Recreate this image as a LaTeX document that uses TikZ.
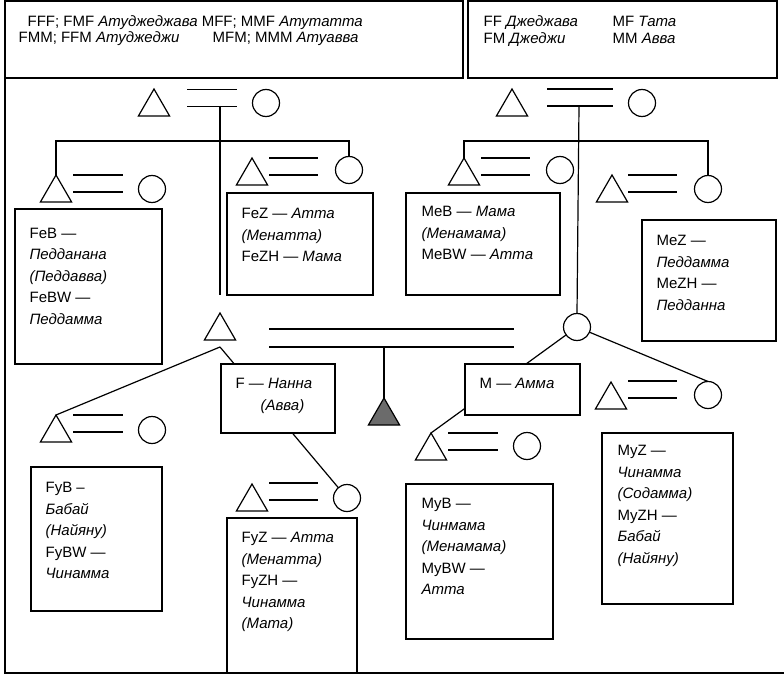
\documentclass[tikz,border=0pt]{standalone}
\usepackage{fontspec}
\setmainfont{Liberation Sans}
\usetikzlibrary{positioning,shapes.geometric}
\definecolor{egogray}{HTML}{6B6B6B}
\newcommand{\wedlock}[3]{\draw (#1,#2) -- ++(#3,0) (#1,#2+17) -- ++(#3,0);}

\begin{document}
\begin{tikzpicture}[x=1pt,y=-1pt,line width=1.2pt,
                    man/.style={draw,regular polygon,regular polygon sides=3,minimum size=36pt,
                                inner sep=0pt,outer sep=0pt,anchor=corner 1},
                    woman/.style={draw,circle,minimum size=27pt,inner sep=0pt,outer sep=0pt},
                    kinbox/.style={draw,fill=white,anchor=north west,inner sep=0pt,outer sep=0pt},
                    kintext/.style={inner sep=0pt,align=left,font=\fontsize{15}{21.5}\selectfont},
                    toptext/.style={inner sep=0pt,anchor=base west,font=\fontsize{15}{16}\selectfont}]
\useasboundingbox (0,0) rectangle (784,674);

% frame and the two headers
\draw (5,78) -- (5,673) -- (784,673);
\node[kinbox,minimum width=458pt,minimum height=77pt] (hdrL) at (5,1) {};
\node[kinbox,minimum width=309pt,minimum height=77pt] (hdrR) at (468,1) {};
\node[toptext] (gg1) at (27,26.5) {FFF; FMF \textit{Атуджеджава} MFF; MMF \textit{Атутатта}};
\node[toptext] (gg2) at (18,43) {FMM; FFM \textit{Атуджеджи}};
\node[toptext] (gg3) at (212,43) {MFM; MMM \textit{Атуавва}};
\node[toptext] (gp1) at (483,27) {FF \textit{Джеджава}};
\node[toptext] (gp2) at (483,43.5) {FM \textit{Джеджи}};
\node[toptext] (gp3) at (612,27) {MF \textit{Тата}};
\node[toptext] (gp4) at (612,43.5) {MM \textit{Авва}};

% people
\node[man] (FFt) at (154,89) {};
\node[woman] (FMc) at (266,103) {};
\node[man] (MFt) at (512,89) {};
\node[woman] (MMc) at (642,103) {};
\node[man] (FeBt) at (56,175) {};
\node[woman] (FeBc) at (152,189) {};
\node[man] (FeZt) at (252,158) {};
\node[woman] (FeZc) at (349,170) {};
\node[man] (MeBt) at (464,158) {};
\node[woman] (MeBc) at (560,170) {};
\node[man] (MeZt) at (612,175) {};
\node[woman] (MeZc) at (708,189) {};
\node[man] (Ft) at (220,313) {};
\node[woman] (Mc) at (577,327) {};
\node[man,fill=egogray] (Ego) at (384,398) {};
\node[man] (Fyt) at (56,415) {};
\node[woman] (Fyc) at (152,430) {};
\node[man] (FyZt) at (252,484) {};
\node[woman] (FyZc) at (347,498) {};
\node[man] (MyBt) at (431,433) {};
\node[woman] (MyBc) at (527,446) {};
\node[man] (MyZt) at (611,382) {};
\node[woman] (MyZc) at (708,395) {};

% marriages
\wedlock{187}{89.5}{50}
\wedlock{547}{89}{66}
\wedlock{73}{175}{50}
\wedlock{269}{158}{49}
\wedlock{481}{158}{49}
\wedlock{628}{175}{49}
\draw (269,329) -- ++(245,0) (269,347) -- ++(245,0);
\wedlock{73}{415}{50}
\wedlock{269}{483}{49}
\wedlock{448}{433}{50}
\wedlock{628}{381}{49}

% descent
\coordinate (FFdrop) at (220,106);
\coordinate (FFbar) at (220,141);
\coordinate (Fstop) at (220,295);
\coordinate (MFdrop) at (579,106);
\coordinate (MFbar) at (579,141);
\coordinate (FMdrop) at (384,347);
\coordinate (Fsplit) at (220,347);
\draw (FFdrop) -- (Fstop);
\draw (FeBt.corner 1) |- (FFbar) -| (FeZc.north);
\draw (MFdrop) -- (Mc.north);
\draw (MeBt.corner 1) |- (MFbar) -| (MeZc.north);
\draw (FMdrop) -- (Ego.corner 1);
\draw (Fsplit) -- (Fyt.corner 1);
\draw (Fsplit) -- (FyZc);
\draw (Mc) -- (MyBt.corner 1);
\draw (Mc) -- (MyZc.north);

% kin term boxes
\node[kinbox,minimum width=147pt,minimum height=155pt] (FeB) at (15,209) {};
\node[kintext,below right=18.5pt and 14pt of FeB.north west] (FeBtx)
  {FeB —\\\textit{Педданана}\\\textit{(Педдавва)}\\FeBW —\\\textit{Педдамма}};
\node[kinbox,minimum width=146pt,minimum height=102pt] (FeZ) at (227,193) {};
\node[kintext,below right=15pt and 14pt of FeZ.north west] (FeZtx)
  {FeZ — \textit{Атта}\\\textit{(Менатта)}\\FeZH — \textit{Мама}};
\node[kinbox,minimum width=154pt,minimum height=102pt] (MeB) at (406,193) {};
\node[kintext,below right=13pt and 15pt of MeB.north west] (MeBtx)
  {MeB — \textit{Мама}\\\textit{(Менамама)}\\MeBW — \textit{Атта}};
\node[kinbox,minimum width=134pt,minimum height=121pt] (MeZ) at (642,220) {};
\node[kintext,below right=15pt and 14pt of MeZ.north west] (MeZtx)
  {MeZ —\\\textit{Педдамма}\\MeZH —\\\textit{Педданна}};
\node[kinbox,minimum width=114pt,minimum height=69pt] (Fbox) at (221,364) {};
\node[kintext,below right=14pt and 14pt of Fbox.north west] (Ftx)
  {F — \textit{Нанна}\\\hspace*{25pt}\textit{(Авва)}};
\node[kinbox,minimum width=115pt,minimum height=51pt] (Mbox) at (465,364) {};
\node[kintext,below right=14pt and 14pt of Mbox.north west] (Mtx)
  {M — \textit{Амма}};
\node[kinbox,minimum width=131pt,minimum height=144pt] (FyB) at (31,467) {};
\node[kintext,below right=15pt and 14pt of FyB.north west] (FyBtx)
  {FyB –\\\textit{Бабай}\\\textit{(Найяну)}\\FyBW —\\\textit{Чинамма}};
\node[kinbox,minimum width=130pt,minimum height=155pt] (FyZ) at (227,518) {};
\node[kintext,below right=14pt and 14pt of FyZ.north west] (FyZtx)
  {FyZ — \textit{Атта}\\\textit{(Менатта)}\\FyZH —\\\textit{Чинамма}\\\textit{(Мата)}};
\node[kinbox,minimum width=147pt,minimum height=155pt] (MyB) at (406,484) {};
\node[kintext,below right=14pt and 15pt of MyB.north west] (MyBtx)
  {MyB —\\\textit{Чинмама}\\\textit{(Менамама)}\\MyBW —\\\textit{Атта}};
\node[kinbox,minimum width=131pt,minimum height=171pt] (MyZ) at (602,433) {};
\node[kintext,below right=12pt and 15pt of MyZ.north west] (MyZtx)
  {MyZ —\\\textit{Чинамма}\\\textit{(Содамма)}\\MyZH —\\\textit{Бабай}\\\textit{(Найяну)}};
\end{tikzpicture}
\end{document}
